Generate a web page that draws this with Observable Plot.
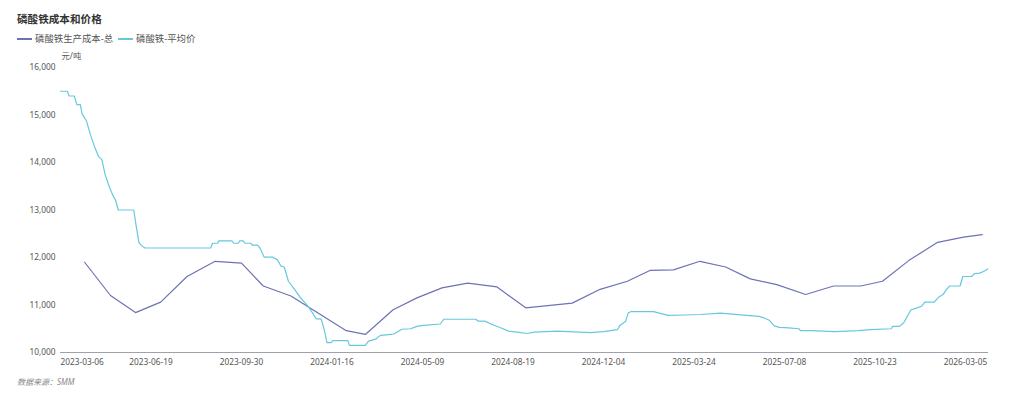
<!DOCTYPE html>
<html>
<head>
<meta charset="utf-8">
<script src="https://cdn.jsdelivr.net/npm/d3@7"></script>
<script src="https://cdn.jsdelivr.net/npm/@observablehq/plot@0.6"></script>
<style>
  body { margin: 0; background: #fff; font-family: "Noto Sans", "Noto Sans CJK SC", sans-serif; }
  #wrap { position: relative; width: 1024px; height: 399px; overflow: hidden; }
  #title { position: absolute; left: 17px; top: 12px; font-size: 10.6px; font-weight: bold; color: #333; line-height: 14px; white-space: nowrap; }
  .leg { position: absolute; top: 33px; font-size: 9.4px; color: #555; line-height: 12px; white-space: nowrap; display: flex; align-items: center; }
  .sw { display: inline-block; width: 15px; height: 2px; margin-right: 3px; }
  #chart { position: absolute; left: 0; top: 40px; }
  #foot { position: absolute; left: 17px; top: 376px; font-size: 8px; font-style: italic; color: #888; line-height: 11px; white-space: nowrap; }
</style>
</head>
<body>
<div id="wrap">
  <div id="title"></div>
  <div class="leg" id="leg0" style="left:17px"></div>
  <div class="leg" id="leg1" style="left:118px"></div>
  <div id="chart"></div>
  <div id="foot"></div>
</div>
<script>
const titleText = "磷酸铁成本和价格";
const seriesNames = ["磷酸铁生产成本-总", "磷酸铁-平均价"];
const seriesColors = ["#6e72b4", "#67c8dd"];
const unitLabel = "元/吨";
const sourceText = "数据来源：SMM";

const xTickLabels = ["2023-03-06","2023-06-19","2023-09-30","2024-01-16","2024-05-09","2024-08-19","2024-12-04","2025-03-24","2025-07-08","2025-10-23","2026-03-05"];
const xEndDate = "2026-03-31";
const yTicks = [10000, 11000, 12000, 13000, 14000, 15000, 16000];

const costDates = ["2023-04-03","2023-05-03","2023-06-01","2023-06-30","2023-07-30","2023-08-31","2023-09-30","2023-10-26","2023-11-28","2024-02-03","2024-02-27","2024-04-02","2024-05-02","2024-05-31","2024-06-29","2024-08-01","2024-09-03","2024-10-28","2024-11-30","2025-01-02","2025-01-30","2025-02-27","2025-03-31","2025-04-30","2025-05-29","2025-06-29","2025-08-02","2025-09-04","2025-10-06","2025-11-03","2025-12-12","2026-01-23","2026-03-02","2026-03-24"];
const costValues = [11900,11200,10840,11060,11600,11920,11880,11400,11190,10460,10380,10900,11150,11360,11460,11380,10940,11040,11330,11500,11730,11740,11920,11800,11550,11430,11220,11400,11400,11500,11940,12320,12430,12480];

const priceDates = ["2023-03-06","2023-03-14","2023-03-16","2023-03-22","2023-03-25","2023-03-29","2023-03-31","2023-04-05","2023-04-10","2023-04-14","2023-04-17","2023-04-19","2023-04-23","2023-04-27","2023-05-01","2023-05-05","2023-05-09","2023-05-12","2023-05-30","2023-06-02","2023-06-05","2023-06-08","2023-06-12","2023-08-26","2023-08-28","2023-09-03","2023-09-04","2023-09-19","2023-09-21","2023-09-26","2023-09-28","2023-10-02","2023-10-04","2023-10-11","2023-10-13","2023-10-19","2023-10-22","2023-10-27","2023-11-06","2023-11-12","2023-11-16","2023-11-20","2023-11-25","2023-12-01","2023-12-09","2023-12-18","2023-12-24","2023-12-28","2024-01-03","2024-01-07","2024-01-10","2024-01-15","2024-01-17","2024-02-05","2024-02-07","2024-02-27","2024-03-02","2024-03-11","2024-03-17","2024-03-31","2024-04-04","2024-04-13","2024-04-24","2024-05-02","2024-05-10","2024-05-29","2024-06-02","2024-07-08","2024-07-11","2024-07-18","2024-07-28","2024-08-05","2024-08-14","2024-08-24","2024-09-05","2024-09-13","2024-10-10","2024-11-19","2024-12-04","2024-12-21","2024-12-24","2024-12-31","2025-01-03","2025-01-06","2025-02-03","2025-02-12","2025-02-21","2025-03-12","2025-04-01","2025-04-24","2025-06-08","2025-06-14","2025-06-20","2025-06-26","2025-07-02","2025-07-13","2025-07-25","2025-07-27","2025-08-08","2025-09-05","2025-10-03","2025-10-18","2025-11-16","2025-11-18","2025-11-28","2025-12-04","2025-12-15","2025-12-24","2025-12-31","2026-01-04","2026-01-18","2026-01-25","2026-01-31","2026-02-05","2026-02-10","2026-02-13","2026-02-25","2026-03-01","2026-03-12","2026-03-15","2026-03-21","2026-03-26","2026-03-30"];
const priceValues = [15500,15500,15400,15400,15220,15220,15030,14880,14570,14360,14220,14130,14060,13730,13520,13340,13200,13000,13000,12640,12320,12250,12200,12200,12300,12300,12350,12350,12300,12300,12350,12350,12300,12300,12260,12260,12200,12010,12010,11950,11820,11800,11500,11360,11160,10980,10830,10710,10710,10460,10210,10210,10250,10250,10150,10150,10240,10280,10360,10380,10400,10490,10500,10550,10570,10600,10700,10700,10660,10660,10580,10520,10450,10430,10400,10430,10450,10420,10440,10480,10570,10660,10830,10860,10860,10820,10780,10790,10800,10830,10760,10730,10680,10560,10530,10520,10500,10460,10460,10440,10460,10480,10500,10550,10550,10620,10900,10940,10980,11060,11060,11170,11220,11330,11400,11400,11400,11600,11600,11660,11670,11710,11760];

// Build tables
const parse = (s) => new Date(s + "T00:00:00Z");
const costData = costDates.map((d, i) => ({date: parse(d), value: costValues[i]}));
const priceData = priceDates.map((d, i) => ({date: parse(d), value: priceValues[i]}));
const tickDates = xTickLabels.map(parse);

// Layout (category-like axis: equally spaced labelled ticks)
const W = 1024, H = 340;
const mLeft = 60, mRight = 36, mTop = 27, mBottom = 28;
const xStep = 90.5;
const xRange = tickDates.map((_, i) => mLeft + i * xStep).concat([W - mRight]);
const fontFamily = '"Noto Sans", "Noto Sans CJK SC", sans-serif';

document.getElementById("title").textContent = titleText;
seriesNames.forEach((n, i) => {
  const el = document.getElementById("leg" + i);
  el.innerHTML = `<span class="sw" style="background:${seriesColors[i]}"></span><span>${n}</span>`;
});
document.getElementById("foot").textContent = sourceText;

const fmtDate = d3.utcFormat("%Y-%m-%d");
const chart = Plot.plot({
  width: W,
  height: H,
  marginTop: mTop,
  marginBottom: mBottom,
  marginLeft: mLeft,
  marginRight: mRight,
  style: {fontFamily, fontSize: "8.3px", color: "#555", background: "transparent", overflow: "visible"},
  x: {type: "utc", domain: tickDates.concat([parse(xEndDate)]), range: xRange},
  y: {domain: [yTicks[0], yTicks[yTicks.length - 1]]},
  marks: [
    Plot.ruleY([yTicks[0]], {stroke: "#9ea2ad", strokeWidth: 1}),
    Plot.axisY({ticks: yTicks, tickSize: 0, tickPadding: 5, tickFormat: d3.format(","), label: null, color: "#555"}),
    Plot.axisX({ticks: tickDates.slice(1), tickSize: 0, tickPadding: 6.5, tickFormat: fmtDate, label: null, color: "#555"}),
    Plot.axisX({ticks: tickDates.slice(0, 1), tickSize: 0, tickPadding: 6.5, tickFormat: fmtDate, label: null, color: "#555", textAnchor: "start"}),
    Plot.line(costData, {x: "date", y: "value", stroke: seriesColors[0], strokeWidth: 1.2}),
    Plot.line(priceData, {x: "date", y: "value", stroke: seriesColors[1], strokeWidth: 1.2}),
    Plot.text([unitLabel], {frameAnchor: "top-left", dx: 1, dy: -14, textAnchor: "start", fill: "#555"})
  ]
});
document.getElementById("chart").appendChild(chart);
</script>
</body>
</html>
